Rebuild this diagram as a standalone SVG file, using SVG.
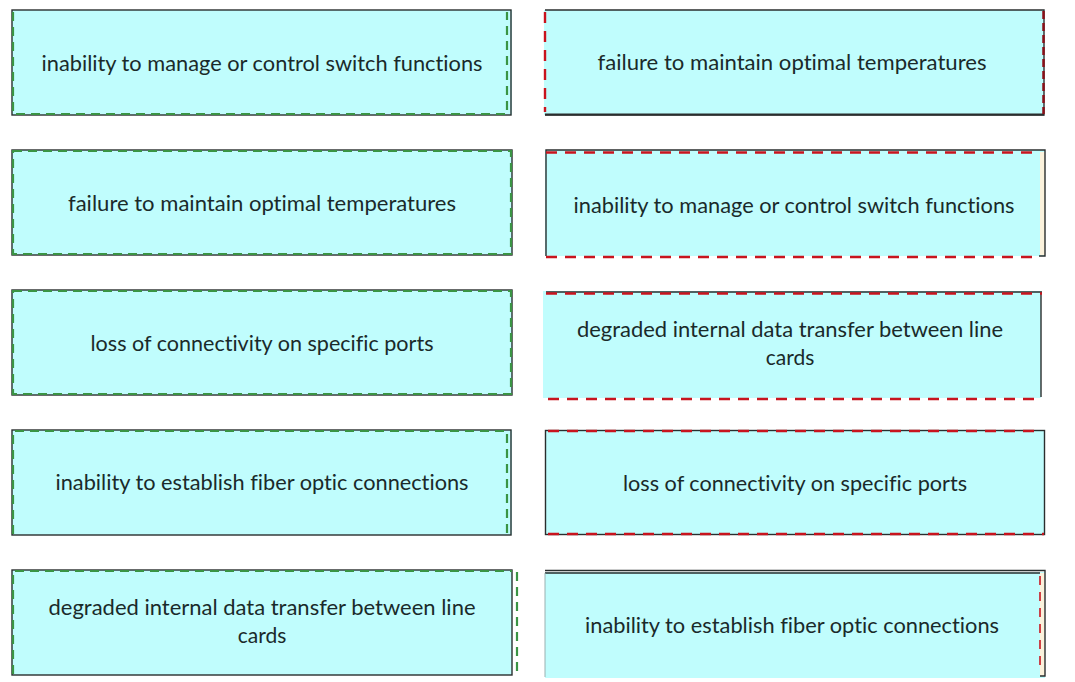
<svg xmlns="http://www.w3.org/2000/svg" width="1075" height="682" viewBox="0 0 1075 682">
<style>
.fill{fill:#c0fdfd;stroke:none}
.dk{stroke:#2a2e2e;stroke-width:1.4;fill:none}
.gd{stroke:#3a9444;stroke-width:2.2;stroke-dasharray:9 6;fill:none}
.rd{stroke:#c8141e;stroke-width:2.4;stroke-dasharray:11 8;fill:none}
.t{font-family:Lato,"Open Sans","Liberation Sans",sans-serif;font-size:21px;fill:#1a2a2a;text-anchor:middle;font-variant-ligatures:none;font-feature-settings:"liga" 0,"dlig" 0}
</style>
<rect width="1075" height="682" fill="#ffffff"/>
<g id="left1">
<rect class="fill" x="12" y="10" width="500" height="105"/>
<rect class="dk" x="12" y="10" width="499" height="105"/>
<path class="gd" d="M13 12 V114 H507 V12"/>
<text class="t" x="262" y="71" textLength="441" lengthAdjust="spacingAndGlyphs">inability to manage or control switch functions</text>
</g>
<g id="left2">
<rect class="fill" x="12" y="150" width="500" height="105"/>
<rect class="dk" x="12" y="150" width="500" height="105"/>
<rect class="gd" x="13" y="151" width="498" height="103"/>
<text class="t" x="262" y="211" textLength="388" lengthAdjust="spacingAndGlyphs">failure to maintain optimal temperatures</text>
</g>
<g id="left3">
<rect class="fill" x="12" y="290" width="500" height="105"/>
<rect class="dk" x="12" y="290" width="500" height="105"/>
<rect class="gd" x="13" y="291" width="498" height="103"/>
<text class="t" x="262" y="351" textLength="343" lengthAdjust="spacingAndGlyphs">loss of connectivity on specific ports</text>
</g>
<g id="left4">
<rect class="fill" x="12" y="430" width="500" height="105"/>
<rect class="dk" x="12" y="430" width="499" height="105"/>
<path class="gd" d="M13 534 V431 H507 V534"/>
<text class="t" x="262" y="490" textLength="413" lengthAdjust="spacingAndGlyphs">inability to establish fiber optic connections</text>
</g>
<g id="left5">
<rect class="fill" x="12" y="570" width="500" height="105"/>
<rect class="dk" x="12" y="570" width="500" height="105"/>
<path class="gd" d="M13 674 V571 H512"/>
<path class="gd" d="M517 572 V674"/>
<text class="t" x="262" y="615" textLength="427" lengthAdjust="spacingAndGlyphs">degraded internal data transfer between line</text>
<text class="t" x="262" y="643">cards</text>
</g>
<g id="right1">
<rect class="fill" x="544" y="10" width="500" height="105"/>
<path class="dk" d="M545 10 H1044 V115 H545"/>
<path d="M545 114.5 H1044" stroke="#2a2e2e" stroke-width="2"/>
<path class="rd" d="M545 12 V112"/>
<path d="M1043.5 11 V114" stroke="#8a1018" stroke-width="2.5" stroke-dasharray="8 4"/>
<text class="t" x="792" y="70" textLength="389" lengthAdjust="spacingAndGlyphs">failure to maintain optimal temperatures</text>
</g>
<g id="right2">
<rect class="fill" x="545" y="150" width="500" height="106"/>
<rect x="1040" y="152" width="5" height="103" fill="#fbf2dc"/>
<path class="dk" d="M546 256 V150 H1045 V256 H1039"/>
<path class="rd" d="M546 152.5 H1040"/>
<path class="rd" d="M546 257 H1040"/>
<text class="t" x="794" y="213" textLength="441" lengthAdjust="spacingAndGlyphs">inability to manage or control switch functions</text>
</g>
<g id="right3">
<rect class="fill" x="543" y="291" width="498" height="107"/>
<path class="dk" d="M546 292 H1042 M1041 292 V397"/>
<path class="rd" d="M546 293.5 H1042"/>
<path class="rd" d="M548 399 H1041"/>
<text class="t" x="790" y="337" textLength="426" lengthAdjust="spacingAndGlyphs">degraded internal data transfer between line</text>
<text class="t" x="790" y="365">cards</text>
</g>
<g id="right4">
<rect class="fill" x="545" y="430" width="500" height="105"/>
<rect class="dk" x="545.5" y="430.5" width="499" height="104"/>
<path class="rd" d="M548 431 H1040"/>
<path class="rd" d="M548 534 H1044"/>
<text class="t" x="795" y="491" textLength="344" lengthAdjust="spacingAndGlyphs">loss of connectivity on specific ports</text>
</g>
<g id="right5">
<rect class="fill" x="545" y="572" width="500" height="106"/>
<rect x="1040" y="573" width="5" height="103" fill="#fbf2dc"/>
<path class="dk" d="M545 570.5 H1045 V676 H1040 M545 573 H1040"/>
<path d="M545 573 V677" stroke="#9ab0b0" stroke-width="1"/>
<path d="M1040 576 V670" stroke="#c8141e" stroke-width="1.6" stroke-dasharray="9 7"/>
<text class="t" x="792" y="633" textLength="414" lengthAdjust="spacingAndGlyphs">inability to establish fiber optic connections</text>
</g>
</svg>
